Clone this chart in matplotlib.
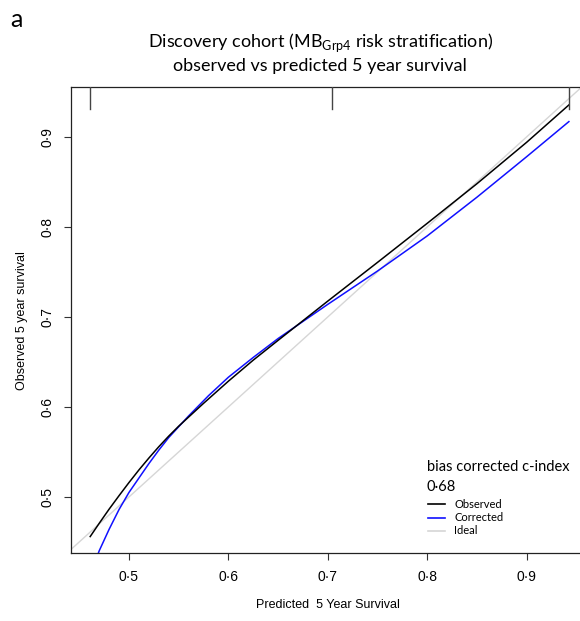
import numpy as np
from matplotlib import pyplot as plt

# ---- data ----
pred_x = [0.461, 0.47, 0.48, 0.49, 0.50, 0.51, 0.52, 0.53, 0.54, 0.55, 0.575, 0.60, 0.625,
          0.65, 0.70, 0.75, 0.80, 0.85, 0.90, 0.9425]
observed = [0.456, 0.4706, 0.4864, 0.5014, 0.516, 0.530, 0.5432, 0.5558, 0.5676, 0.5786, 0.604,
            0.6286, 0.652, 0.674, 0.7176, 0.7606, 0.804, 0.848, 0.894, 0.9355]

corr_x = [0.461, 0.47, 0.48, 0.49, 0.50, 0.51, 0.52, 0.53, 0.54, 0.56, 0.58, 0.60, 0.625,
          0.65, 0.70, 0.75, 0.80, 0.85, 0.90, 0.9425]
corrected = [0.412, 0.440, 0.464, 0.486, 0.505, 0.521, 0.537, 0.552, 0.566, 0.590, 0.6125,
             0.633, 0.655, 0.676, 0.714, 0.751, 0.790, 0.833, 0.878, 0.917]

rug_x = [0.4611, 0.704, 0.9425]
ticks = [0.5, 0.6, 0.7, 0.8, 0.9]
tick_labels = ["0·5", "0·6", "0·7", "0·8", "0·9"]
xlims = (0.4414, 0.9595)
ylims = (0.4374, 0.9555)
cindex = "0·68"

cal_font = ['Lato', 'DejaVu Sans']
ar_font = ['Liberation Sans', 'DejaVu Sans']

fig = plt.figure(figsize=(5.8, 6.21), dpi=100)
ax = fig.add_axes([0.1219, 0.109, 0.8781 + 0.01, 0.751])

# ideal line
ax.plot(xlims, xlims, color="#d6d6d6", lw=1.0, zorder=1)
ax.plot(pred_x, observed, color="black", lw=1.1, zorder=3)
ax.plot(corr_x, corrected, color="#1010ff", lw=1.1, zorder=2)

# rug of group predictions at the top
for rx in rug_x:
    ax.plot([rx, rx], [ylims[1], ylims[1] - 0.0245], color="#444444", lw=1.0, zorder=4)

ax.set_xlim(xlims)
ax.set_ylim(ylims)
ax.set_xticks(ticks)
ax.set_xticklabels(tick_labels, family=ar_font, fontsize=10)
ax.set_yticks(ticks)
ax.set_yticklabels(tick_labels, family=ar_font, fontsize=10, rotation=90, va="center")
ax.tick_params(direction="out", length=5, width=0.8, color="#333333", pad=7)
ax.spines["right"].set_visible(False)
for s in ["left", "bottom", "top"]:
    ax.spines[s].set_color("#222222")
    ax.spines[s].set_linewidth(0.9)

ax.set_xlabel("Predicted  5 Year Survival", family=ar_font, fontsize=9, labelpad=11)
ax.set_ylabel("Observed 5 year survival", family=ar_font, fontsize=9, labelpad=9)

# title
fig.text(0.552, 0.932, r"Discovery cohort (MB$_{\mathregular{Grp4}}$ risk stratification)",
         ha="center", va="center", family=cal_font, fontsize=13)
fig.text(0.552, 0.894, "observed vs predicted 5 year survival",
         ha="center", va="center", family=cal_font, fontsize=13)
fig.text(0.017, 0.968, "a", ha="left", va="center", family=cal_font, fontsize=18)

# legend block
fig.text(0.736, 0.248, "bias corrected c-index", ha="left", va="center", family=cal_font, fontsize=10.5)
fig.text(0.736, 0.216, cindex, ha="left", va="center", family=cal_font, fontsize=10.5)
leg_y = [0.188, 0.166, 0.145]
leg_names = ["Observed", "Corrected", "Ideal"]
leg_cols = ["black", "#1010ff", "#d6d6d6"]
for yy, nm, cc in zip(leg_y, leg_names, leg_cols):
    fig.add_artist(plt.Line2D([0.738, 0.768], [yy, yy], color=cc, lw=1.2))
    fig.text(0.783, yy, nm, ha="left", va="center", family=cal_font, fontsize=8)

fig.savefig("out.png", dpi=100)
